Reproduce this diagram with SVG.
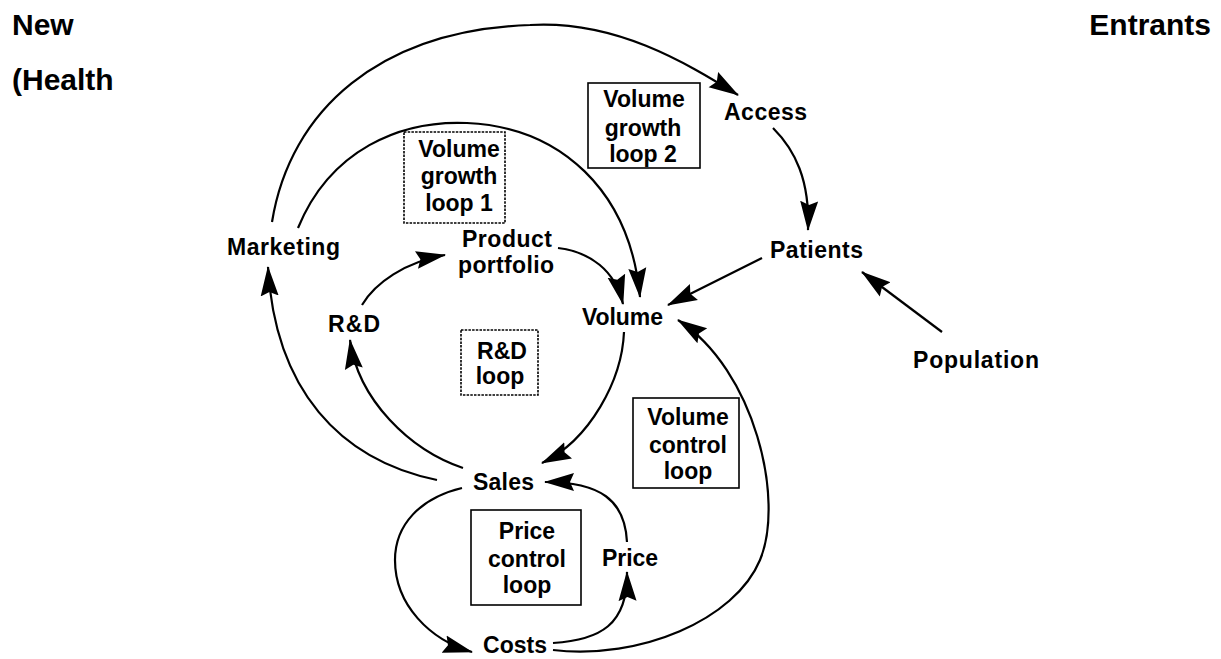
<svg xmlns="http://www.w3.org/2000/svg" width="1221" height="659" viewBox="0 0 1221 659">
<style>
text{font-family:"Liberation Sans",Arial,Helvetica,sans-serif;font-weight:bold;fill:#000}
.hdr{font-size:30px}
.lbl{font-size:23px;text-anchor:middle}
.box{fill:none;stroke:#000;stroke-width:1.6}
.dot{stroke-dasharray:2.5 1.2}
.c{fill:none;stroke:#000;stroke-width:2.2;marker-end:url(#ah)}
</style>
<defs>
<marker id="ah" markerUnits="userSpaceOnUse" markerWidth="30" markerHeight="20" viewBox="0 0 30 20" refX="29" refY="10" orient="auto">
<path d="M0,1 L30,10 L0,19 L4,10 z" fill="#000"/>
</marker>
</defs>
<rect width="1221" height="659" fill="#fff"/>
<g id="header">
<text class="hdr" x="12" y="35">New</text>
<text class="hdr" x="1211" y="35" text-anchor="end">Entrants</text>
<text class="hdr" x="12" y="90">(Health</text>
</g>
<g id="connectors">
<path class="c" d="M272,222 C290,110 380,30 530,25 C615,20 685,62 738,95"/>
<path class="c" d="M298,228 C330,150 400,120 467,123 C560,127 630,190 640,297"/>
<path class="c" d="M773,128 C795,150 810,180 808,230"/>
<path class="c" d="M762,258 L668,305"/>
<path class="c" d="M942,332 L862,272"/>
<path class="c" d="M362,305 C375,283 405,262 445,255"/>
<path class="c" d="M558,248 C590,252 615,270 623,304"/>
<path class="c" d="M624,332 C622,380 590,440 542,463"/>
<path class="c" d="M437,480 C340,460 275,390 268,267"/>
<path class="c" d="M463,468 C410,450 358,400 350,340"/>
<path class="c" d="M462,488 C420,498 395,525 395,560 C395,605 430,640 472,652"/>
<path class="c" d="M553,643 C600,640 628,625 627,572"/>
<path class="c" d="M553,650 C640,660 735,620 760,560 C785,500 755,370 678,320"/>
<path class="c" d="M627,542 C625,500 600,482 545,482"/>
</g>
<g id="marketing"><text class="lbl" x="283.5" y="255" textLength="113">Marketing</text></g>
<g id="product-portfolio">
<text class="lbl" x="507" y="247" textLength="90">Product</text>
<text class="lbl" x="506" y="273" textLength="96">portfolio</text>
</g>
<g id="rnd"><text class="lbl" x="354" y="332" textLength="52">R&amp;D</text></g>
<g id="volume"><text class="lbl" x="622.5" y="325" textLength="81">Volume</text></g>
<g id="access"><text class="lbl" x="765.5" y="120" textLength="83">Access</text></g>
<g id="patients"><text class="lbl" x="816.5" y="258" textLength="93">Patients</text></g>
<g id="population"><text class="lbl" x="976" y="368" textLength="126">Population</text></g>
<g id="sales"><text class="lbl" x="503.5" y="490" textLength="61">Sales</text></g>
<g id="price"><text class="lbl" x="630" y="566" textLength="56">Price</text></g>
<g id="costs"><text class="lbl" x="515" y="653" textLength="64">Costs</text></g>
<g id="volume-growth-loop-1">
<rect class="box dot" x="404" y="132" width="101" height="91"/>
<text class="lbl" x="459" y="157">Volume</text>
<text class="lbl" x="459" y="184">growth</text>
<text class="lbl" x="459" y="211">loop 1</text>
</g>
<g id="volume-growth-loop-2">
<rect class="box" x="588" y="83" width="112" height="85"/>
<text class="lbl" x="644" y="107">Volume</text>
<text class="lbl" x="643" y="136">growth</text>
<text class="lbl" x="643" y="162">loop 2</text>
</g>
<g id="rnd-loop">
<rect class="box dot" x="461" y="330" width="77" height="65"/>
<text class="lbl" x="502" y="359">R&amp;D</text>
<text class="lbl" x="500" y="384">loop</text>
</g>
<g id="volume-control-loop">
<rect class="box" x="633" y="398" width="106" height="90"/>
<text class="lbl" x="688" y="425">Volume</text>
<text class="lbl" x="688" y="453">control</text>
<text class="lbl" x="688" y="479">loop</text>
</g>
<g id="price-control-loop">
<rect class="box" x="471" y="510" width="110" height="95"/>
<text class="lbl" x="527" y="539">Price</text>
<text class="lbl" x="527" y="567">control</text>
<text class="lbl" x="527" y="593">loop</text>
</g>
</svg>
